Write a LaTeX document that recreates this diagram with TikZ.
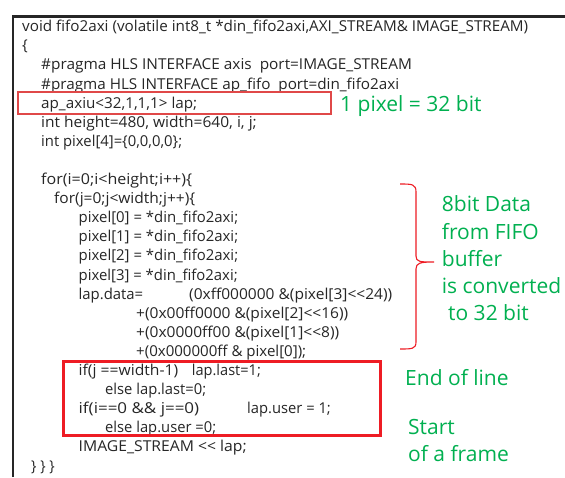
\documentclass[tikz,border=0pt]{standalone}
\usepackage{fontspec}
\setmainfont{Open Sans}
\newfontfamily\codefont{Open Sans}
\definecolor{codeink}{HTML}{262626}
\definecolor{notegreen}{HTML}{00B050}
\definecolor{markred}{HTML}{EE1C24}
\definecolor{thinred}{HTML}{E04848}
% a code fragment set to a given run length, height unchanged
\newcommand{\cl}[2]{\resizebox{#1pt}{\height}{#2}}
\begin{document}
\begin{tikzpicture}[x=1pt,y=-1pt,
  code/.style={anchor=base west,inner sep=0pt,text=codeink,font=\codefont\fontsize{15}{18}\selectfont},
  note/.style={anchor=base west,inner sep=0pt,text=notegreen,font=\fontsize{21}{26}\selectfont},
  frameline/.style={draw=codeink,line width=2.4pt}]
\useasboundingbox (0,0) rectangle (565,477);
\fill[white] (0,0) rectangle (565,477);
% listing frame (open to the right and bottom)
\draw[frameline] (13,477) -- (13,16.5) -- (566,16.5);
% code lines
\node[code] (l0)  at (22,31.7)  {\cl{506}{void fifo2axi (volatile int8\_t *din\_fifo2axi,AXI\_STREAM\& IMAGE\_STREAM)}};
\node[code] (l1)  at (22,50.8)  {\{};
\node[code] (l2)  at (41,69.9)  {\cl{370.7}{\#pragma HLS INTERFACE axis\ \ port=IMAGE\_STREAM}};
\node[code] (l3)  at (41,89.0)  {\cl{358}{\#pragma HLS INTERFACE ap\_fifo\ \ port=din\_fifo2axi}};
\node[code] (l4)  at (41,108.1) {\cl{156}{ap\_axiu<32,1,1,1> lap;}};
\node[code] (l5)  at (41,127.2) {\cl{215.6}{int height=480, width=640, i, j;}};
\node[code] (l6)  at (41,146.3) {\cl{141}{int pixel[4]=\{0,0,0,0\};}};
\node[code] (l8)  at (41,184.5) {\cl{151}{for(i=0;i<height;i++)\{}};
\node[code] (l9)  at (54,203.6) {\cl{141}{for(j=0;j<width;j++)\{}};
\node[code] (l10) at (78.5,222.7) {\cl{159.5}{pixel[0] = *din\_fifo2axi;}};
\node[code] (l11) at (78.5,241.8) {\cl{159.5}{pixel[1] = *din\_fifo2axi;}};
\node[code] (l12) at (78.5,260.9) {\cl{159.5}{pixel[2] = *din\_fifo2axi;}};
\node[code] (l13) at (78.5,280.0) {\cl{159}{pixel[3] = *din\_fifo2axi;}};
\node[code] (l14) at (78.5,299.1) {\cl{64.5}{lap.data=}};
\node[code] (l14b) at (189,299.1) {\cl{203}{(0xff000000 \&(pixel[3]<<24))}};
\node[code] (l15) at (136,318.2) {\cl{212}{+(0x00ff0000 \&(pixel[2]<<16))}};
\node[code] (l16) at (136,337.3) {\cl{203}{+(0x0000ff00 \&(pixel[1]<<8))}};
\node[code] (l17) at (136,356.4) {\cl{170}{+(0x000000ff \& pixel[0]);}};
\node[code] (l18) at (78.5,375.5) {\cl{99.5}{if(j ==width-1)}};
\node[code] (l18b) at (191.7,375.5) {\cl{69}{lap.last=1;}};
\node[code] (l19) at (105,394.6) {\cl{101}{else lap.last=0;}};
\node[code] (l20) at (78.5,413.7) {\cl{120.5}{if(i==0 \&\& j==0)}};
\node[code] (l20b) at (247,413.7) {\cl{83.7}{lap.user = 1;}};
\node[code] (l21) at (105,432.8) {\cl{111}{else lap.user =0;}};
\node[code] (l22) at (78.5,451.9) {\cl{168}{IMAGE\_STREAM << lap;}};
\node[code] (l23) at (31,471.0) {\cl{23.5}{\} \} \}}};
% highlight marks
\draw[thinred,line width=1.3pt] (18,92) rectangle (331,114);
\draw[markred,line width=3pt] (63.5,361) rectangle (380,435);
% curly brace over the packing loop
\draw[markred,line width=1.1pt]
  (400,184) .. controls (412,184) and (416,184) .. (416,192)
  -- (416,256) .. controls (416,262) and (420,262) .. (434,262)
  (434,262) .. controls (420,262) and (416,263) .. (416,269)
  -- (416,342) .. controls (416,349) and (412,349) .. (400,349);
% annotations
\node[note] (n1) at (340,111) {1 pixel = 32 bit};
\node[note] (n2) at (441.7,211.7) {8bit Data};
\node[note] (n3) at (441.7,239) {from FIFO};
\node[note] (n4) at (441.7,266.3) {buffer};
\node[note] (n5) at (441.7,293.6) {is converted};
\node[note] (n6) at (448,320.9) {to 32 bit};
\node[note] (n7) at (405,385.7) {End of line};
\node[note] (n8) at (408,434) {Start};
\node[note] (n9) at (408,461.7) {of a frame};
\end{tikzpicture}
\end{document}
